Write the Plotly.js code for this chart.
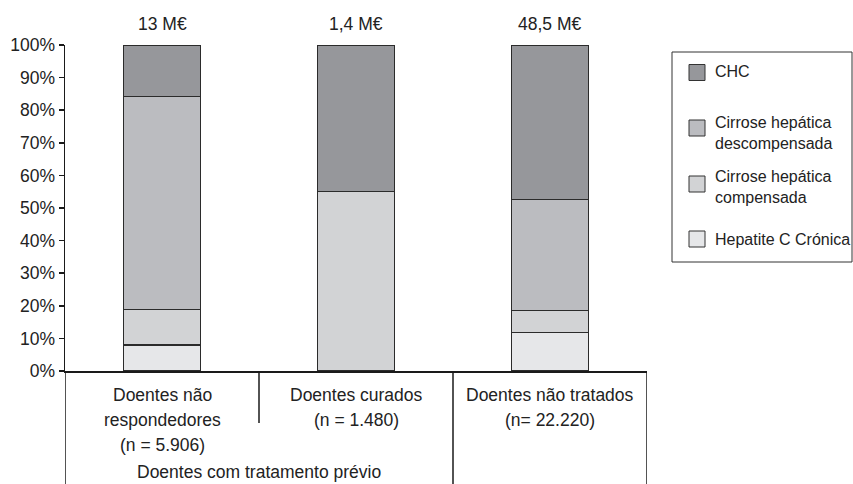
<!DOCTYPE html>
<html>
<head>
<meta charset="utf-8">
<script src="https://cdn.plot.ly/plotly-3.0.1.min.js"></script>
<style>html,body{margin:0;padding:0;background:#fff;}#chart{width:853px;height:484px;}</style>
</head>
<body>
<div id="chart"></div>
<script>
// ---- data ----
const categories = ['Doentes não respondedores', 'Doentes curados', 'Doentes não tratados'];
const labelLine1 = ['Doentes não', 'Doentes curados', 'Doentes não tratados'];
const labelLine2 = ['respondedores', '(n = 1.480)', '(n= 22.220)'];
const labelLine3 = ['(n = 5.906)', '', ''];
const groupLabel = 'Doentes com tratamento prévio';
const costLabels = ['13 M€', '1,4 M€', '48,5 M€'];

const seriesNames = ['Hepatite C Crónica', 'Cirrose hepática compensada', 'Cirrose hepática descompensada', 'CHC'];
const hepatiteC = [8, 0, 11.7];
const cirroseComp = [10.8, 55, 6.8];
const cirroseDesc = [65.4, 0, 34];
const chc = [15.8, 45, 47.5];

const tickValues = [0, 10, 20, 30, 40, 50, 60, 70, 80, 90, 100];
const tickLabels = ['0%', '10%', '20%', '30%', '40%', '50%', '60%', '70%', '80%', '90%', '100%'];

const legendLabels = ['CHC', 'Cirrose hepática<br>descompensada', 'Cirrose hepática<br>compensada', 'Hepatite C Crónica'];

// ---- style ----
const colors = ['#e6e7e9', '#d2d3d5', '#bbbcc0', '#96979b'];
const legendColors = ['#96979b', '#bbbcc0', '#d2d3d5', '#e6e7e9'];
const FONT = 'Liberation Sans, Arial, Helvetica, sans-serif';
const TXT = '#222';
const BIG = 17.5;
const W = 853, H = 484, ML = 65, MR = 206, MT = 45, MB = 113;
const PW = W - ML - MR, PH = H - MT - MB;
const px = x => (x - ML) / PW;
const py = y => (H - MB - y) / PH;

const values = [hepatiteC, cirroseComp, cirroseDesc, chc];
const traces = values.map((v, i) => ({
  type: 'bar', x: categories, y: v, name: seriesNames[i],
  marker: {color: colors[i], line: {color: '#2b2b2b', width: 1.2}},
  showlegend: false, hoverinfo: 'skip'
}));

const annotations = [];
const shapes = [];
categories.forEach((c, i) => {
  annotations.push({xref: 'x', yref: 'paper', x: c, y: py(24), text: costLabels[i], showarrow: false,
    font: {family: FONT, size: BIG, color: TXT}, xanchor: 'center', yanchor: 'middle'});
  [labelLine1[i], labelLine2[i], labelLine3[i]].forEach((t, k) => {
    if (!t) return;
    annotations.push({xref: 'x', yref: 'paper', x: c, y: py(395 + 25 * k), text: t, showarrow: false,
      font: {family: FONT, size: BIG, color: TXT}, xanchor: 'center', yanchor: 'middle'});
  });
});
annotations.push({xref: 'x', yref: 'paper', x: 0.5, y: py(484), text: groupLabel, showarrow: false,
  font: {family: FONT, size: BIG, color: TXT}, xanchor: 'center', yanchor: 'bottom'});

// table lines below the axis
const lineStyle = {color: '#1a1a1a', width: 1.5};
[[-0.5, 500], [0.5, 423], [1.5, 500], [2.5, 500]].forEach(([x, yb]) => {
  shapes.push({type: 'line', xref: 'x', yref: 'paper', x0: x, x1: x, y0: 0, y1: py(yb), line: lineStyle});
});

// legend box
shapes.push({type: 'rect', xref: 'paper', yref: 'paper', x0: px(672), x1: px(852), y0: py(52), y1: py(262),
  line: {color: '#333', width: 1}, fillcolor: 'rgba(0,0,0,0)'});
const swatchCY = [72.5, 128, 184, 239];
const textCY = [72, 132.5, 187, 239.3];
legendLabels.forEach((t, i) => {
  shapes.push({type: 'rect', xref: 'paper', yref: 'paper', x0: px(689), x1: px(705),
    y0: py(swatchCY[i] - 8), y1: py(swatchCY[i] + 8), line: {color: '#333', width: 1}, fillcolor: legendColors[i]});
  annotations.push({xref: 'paper', yref: 'paper', x: px(713), y: py(textCY[i]), text: t, showarrow: false,
    align: 'left', xanchor: 'left', yanchor: 'middle', font: {family: FONT, size: 16, color: TXT}});
});

const layout = {
  width: W, height: H,
  margin: {l: ML, r: MR, t: MT, b: MB, pad: 0},
  paper_bgcolor: '#fff', plot_bgcolor: '#fff',
  barmode: 'stack', bargap: 0.6,
  showlegend: false,
  font: {family: FONT, size: 16, color: TXT},
  xaxis: {type: 'category', range: [-0.5, 2.5], showticklabels: false, ticks: '', showgrid: false,
    zeroline: false, showline: true, linecolor: '#1a1a1a', linewidth: 1.5, fixedrange: true},
  yaxis: {range: [0, 100], tickmode: 'array', tickvals: tickValues, ticktext: tickLabels,
    showgrid: false, zeroline: false, showline: true, linecolor: '#1a1a1a', linewidth: 1.5,
    ticks: 'outside', ticklen: 5, tickwidth: 1.5, tickcolor: '#1a1a1a',
    tickfont: {family: FONT, size: BIG, color: TXT}, fixedrange: true},
  annotations: annotations,
  shapes: shapes
};

Plotly.newPlot('chart', traces, layout, {displayModeBar: false, staticPlot: true});
</script>
</body>
</html>
